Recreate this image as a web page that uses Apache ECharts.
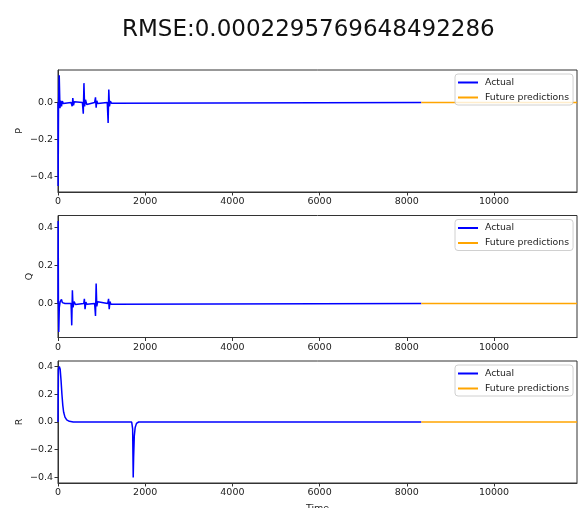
<!DOCTYPE html>
<html>
<head>
<meta charset="utf-8">
<script src="https://cdn.jsdelivr.net/npm/echarts@6/dist/echarts.min.js"></script>
<style>
  html, body { margin: 0; padding: 0; background: #fff; }
  #chart { width: 580px; height: 508px; }
</style>
</head>
<body>
<div id="chart"></div>
<script>
// Figure text
const titleText = 'RMSE:0.0002295769648492286';
const panelNames = ['P', 'Q', 'R'];
const seriesNames = ['Actual', 'Future predictions'];
const xAxisName = 'Time';

// Time axis
const trainEnd = 8333;
const timeEnd = 11904;
const xTicks = [0, 2000, 4000, 6000, 8000, 10000];

// P: measured signal (time, value)
const pTime  = [0, 3, 12, 28, 45, 60, 80, 100, 120, 150,
                300, 325, 340, 355, 375, 400, 420,
                560, 580, 595, 610, 630, 660, 690,
                840, 860, 875, 890, 910, 930,
                1130, 1150, 1165, 1180, 1200, 1230, 1260,
                8333];
const pValue = [0, -0.45, -0.02, 0.147, -0.03, 0.01, -0.02, 0.008, -0.005, 0,
                0, -0.02, 0.025, -0.015, 0.005, -0.003, 0,
                0, -0.06, 0.105, -0.02, 0.015, -0.01, 0,
                0, 0.028, -0.028, 0.01, -0.005, 0,
                0, -0.11, 0.07, -0.02, 0.008, -0.004, 0,
                0];

// Q: measured signal (time, value)
const qTime  = [0, 4, 10, 18, 30, 50, 80, 100, 130, 160,
                300, 315, 330, 345, 370, 400, 430,
                590, 605, 620, 640, 660, 690,
                840, 860, 875, 890, 910, 940,
                1140, 1160, 1175, 1190, 1215, 1240,
                8333];
const qValue = [0, 0.435, 0, -0.15, -0.02, 0.01, 0.022, 0.005, -0.005, 0,
                0, -0.115, 0.07, -0.02, 0.01, -0.005, 0,
                0, 0.025, -0.03, 0.008, -0.004, 0,
                0, -0.065, 0.105, -0.015, 0.01, 0,
                0, 0.025, -0.03, 0.01, -0.004, 0,
                0];

// R: measured signal (time, value)
const rTime  = [0, 10, 30, 50, 70, 90, 110, 130, 160, 200, 260, 350,
                1690, 1712, 1725, 1735, 1750, 1770, 1800, 1850,
                8333];
const rValue = [0, 0.38, 0.40, 0.38, 0.30, 0.20, 0.12, 0.07, 0.035, 0.015, 0.005, 0,
                0, -0.05, -0.40, -0.25, -0.10, -0.04, -0.01, 0,
                0];

// Forecast segments (time, value)
const predTime  = [8333, 11904];
const predP = [0, 0];
const predQ = [0, 0];
const predR = [0, 0];

// Y axes: limits and tick marks
const yRanges = [[-0.483, 0.176], [-0.179, 0.464], [-0.44, 0.44]];
const yTicks = [[-0.4, -0.2, 0.0], [0.0, 0.2, 0.4], [-0.4, -0.2, 0.0, 0.2, 0.4]];

const zip = (xs, ys) => xs.map((x, i) => [x, ys[i]]);
const actualData = [zip(pTime, pValue), zip(qTime, qValue), zip(rTime, rValue)];
const predData = [zip(predTime, predP), zip(predTime, predQ), zip(predTime, predR)];

const fontFamily = '"DejaVu Sans", sans-serif';
const tickColor = '#222';
const frameColor = '#333';
const gridTops = [70, 215.5, 361];
const gridHeight = 122;
const yNameGaps = [33, 23, 33];

const fmtY = v => {
  if (Math.abs(v) < 1e-9) return '0.0';
  return (v < 0 ? '\u2212' : '') + Math.abs(v).toFixed(1);
};

const grids = [], xAxes = [], yAxes = [], series = [], legends = [];
for (let i = 0; i < 3; i++) {
  grids.push({
    left: 58, right: 3, top: gridTops[i], height: gridHeight,
    outerBoundsMode: 'none', containLabel: false,
    show: true, borderColor: frameColor, borderWidth: 1, backgroundColor: 'transparent'
  });
  xAxes.push({
    type: 'value', gridIndex: i, min: 0, max: timeEnd,
    name: i === 2 ? xAxisName : '',
    nameLocation: 'middle', nameGap: 21, nameMoveOverlap: false,
    nameTextStyle: { fontFamily, fontSize: 9.5, color: tickColor },
    axisLine: { show: true, onZero: false, lineStyle: { color: frameColor, width: 1 } },
    axisTick: { show: true, inside: false, length: 3.5, customValues: xTicks,
                lineStyle: { color: frameColor, width: 1 } },
    axisLabel: { show: true, customValues: xTicks, formatter: v => String(v),
                 fontFamily, fontSize: 9.5, color: tickColor, margin: 5 },
    splitLine: { show: false }
  });
  yAxes.push({
    type: 'value', gridIndex: i, min: yRanges[i][0], max: yRanges[i][1],
    name: panelNames[i], nameLocation: 'middle', nameGap: yNameGaps[i], nameRotate: 90,
    nameMoveOverlap: false,
    nameTextStyle: { fontFamily, fontSize: 9.5, color: tickColor },
    axisLine: { show: true, onZero: false, lineStyle: { color: frameColor, width: 1 } },
    axisTick: { show: true, inside: false, length: 3.5, customValues: yTicks[i],
                lineStyle: { color: frameColor, width: 1 } },
    axisLabel: { show: true, customValues: yTicks[i], formatter: fmtY,
                 fontFamily, fontSize: 9.5, color: tickColor, margin: 5 },
    splitLine: { show: false }
  });
  series.push({
    name: seriesNames[0], type: 'line', xAxisIndex: i, yAxisIndex: i,
    data: actualData[i], showSymbol: false, symbol: 'none', smooth: false,
    lineStyle: { color: '#0000ff', width: 1.5 }, itemStyle: { color: '#0000ff' },
    z: 3
  });
  series.push({
    name: seriesNames[1], type: 'line', xAxisIndex: i, yAxisIndex: i,
    data: predData[i], showSymbol: false, symbol: 'none', smooth: false,
    lineStyle: { color: '#ffa500', width: 1.5 }, itemStyle: { color: '#ffa500' },
    z: 3
  });
  legends.push({
    data: seriesNames, orient: 'vertical', left: 455, top: gridTops[i] + 4,
    icon: 'rect', itemWidth: 20, itemHeight: 2, itemGap: 4,
    padding: [3, 4, 2, 3],
    backgroundColor: 'rgba(255,255,255,0.8)', borderColor: '#d0d0d0',
    borderWidth: 1, borderRadius: 3,
    textStyle: { fontFamily, fontSize: 9.3, color: tickColor, lineHeight: 11,
                 padding: [0, 0, 0, 2] },
    selectedMode: false
  });
}

const chart = echarts.init(document.getElementById('chart'), null, { renderer: 'canvas' });
chart.setOption({
  animation: false,
  backgroundColor: '#fff',
  title: {
    text: titleText, left: 117, top: 14,
    textStyle: { fontFamily, fontSize: 23, fontWeight: 'normal', color: '#111' }
  },
  legend: legends,
  grid: grids,
  xAxis: xAxes,
  yAxis: yAxes,
  series: series
});
</script>
</body>
</html>
